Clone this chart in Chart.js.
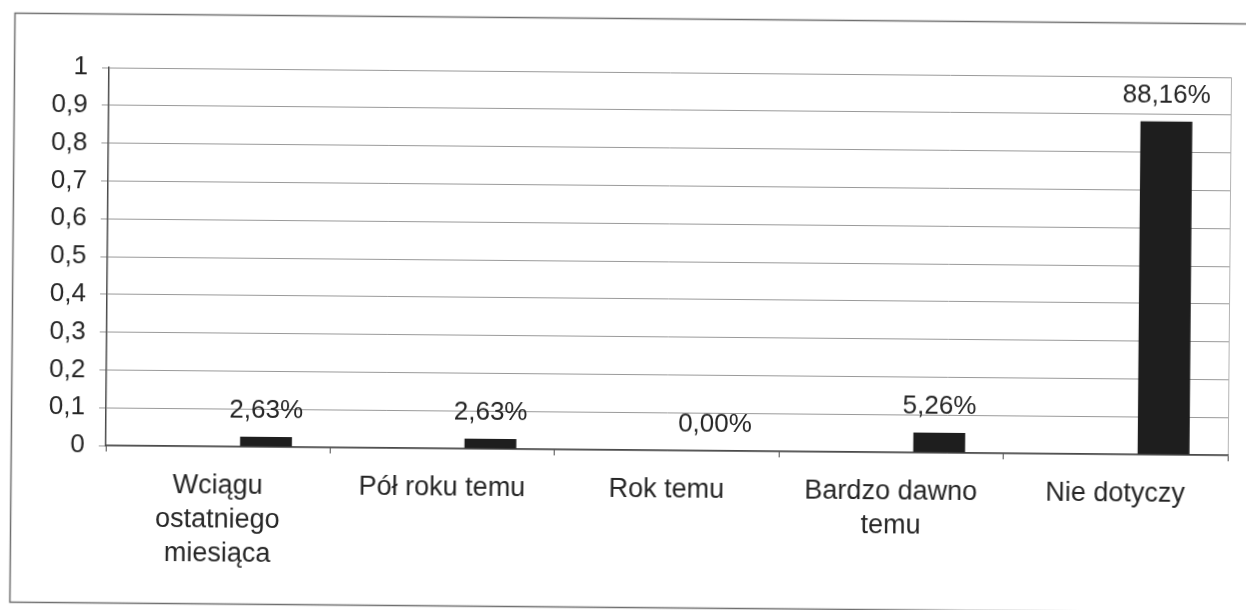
<!DOCTYPE html>
<html>
<head>
<meta charset="utf-8">
<script src="https://cdn.jsdelivr.net/npm/chart.js@4/dist/chart.umd.min.js"></script>
<style>
	html, body { margin: 0; padding: 0; background: #ffffff; overflow: hidden; }
	/* skan jest lekko przekrzywiony */
	#wrap { width: 1246px; height: 610px; transform: rotate(0.5deg); transform-origin: 623px 305px; }
</style>
</head>
<body>
<div id="wrap"><canvas id="chart" width="1246" height="610"></canvas></div>
<script>
// kategorie (podpisy osi X)
const categories = [
	['Wciągu', 'ostatniego', 'miesiąca'],
	'Pół roku temu',
	'Rok temu',
	['Bardzo dawno', 'temu'],
	'Nie dotyczy',
];
// dwie puste serie - w oryginale słupek stoi na trzeciej pozycji w grupie
const seriesEmpty1 = [null, null, null, null, null];
const seriesEmpty2 = [null, null, null, null, null];
const seriesShare = [0.0263, 0.0263, 0.0, 0.0526, 0.8816];
// podpisy osi Y
const yTickLabels = ['0', '0,1', '0,2', '0,3', '0,4', '0,5', '0,6', '0,7', '0,8', '0,9', '1'];

Chart.defaults.font.family = '"Liberation Sans", Arial, sans-serif';
Chart.defaults.color = '#262626';

// ramka wykresu i obramowanie pola wykresu
const frames = {
	id: 'frames',
	beforeDraw(chart) {
		const { ctx, chartArea: { top, right, bottom } } = chart;
		ctx.save();
		ctx.strokeStyle = '#6f6f6f';
		ctx.lineWidth = 1.5;
		ctx.strokeRect(12.5, 18.5, 1250, 589);
		ctx.strokeStyle = '#b4b4b4';
		ctx.lineWidth = 1;
		ctx.beginPath();
		ctx.moveTo(Math.round(right) + 0.5, top);
		ctx.lineTo(Math.round(right) + 0.5, bottom);
		ctx.stroke();
		ctx.restore();
	},
};

// etykiety wartości nad słupkami
const valueLabels = {
	id: 'valueLabels',
	afterDatasetsDraw(chart) {
		const { ctx } = chart;
		const meta = chart.getDatasetMeta(2);
		ctx.save();
		ctx.font = '26px "Liberation Sans", Arial, sans-serif';
		ctx.fillStyle = '#262626';
		ctx.textAlign = 'center';
		ctx.textBaseline = 'alphabetic';
		meta.data.forEach((bar, i) => {
			const v = seriesShare[i];
			const txt = (v * 100).toFixed(2).replace('.', ',') + '%';
			ctx.fillText(txt, bar.x, bar.y - 19);
		});
		ctx.restore();
	},
};

new Chart(document.getElementById('chart'), {
	type: 'bar',
	data: {
		labels: categories,
		datasets: [
			{ data: seriesEmpty1, backgroundColor: '#1e1e1e' },
			{ data: seriesEmpty2, backgroundColor: '#1e1e1e' },
			{ data: seriesShare, backgroundColor: '#1e1e1e', borderWidth: 0 },
		],
	},
	options: {
		responsive: false,
		animation: false,
		layout: { padding: { left: 0, top: 72, right: 17, bottom: 0 } },
		categoryPercentage: 0.642,
		barPercentage: 1.08,
		plugins: {
			legend: { display: false },
			tooltip: { enabled: false },
		},
		scales: {
			y: {
				min: 0,
				max: 1,
				ticks: {
					stepSize: 0.1,
					padding: 14,
					font: { size: 26 },
					color: '#262626',
					callback: (value, index) => yTickLabels[index],
				},
				grid: { color: '#9a9a9a', lineWidth: 1, tickLength: 7 },
				border: { color: '#4a4a4a', width: 1.5 },
				afterFit: (scale) => { scale.width = 107; },
			},
			x: {
				ticks: {
					padding: 17,
					font: { size: 27, lineHeight: 1.25 },
					color: '#262626',
					maxRotation: 0,
					autoSkip: false,
				},
				grid: { offset: true, drawOnChartArea: false, tickLength: 6, color: '#4a4a4a' },
				border: { color: '#4a4a4a', width: 1.5 },
				afterFit: (scale) => { scale.height = 160; },
			},
		},
	},
	plugins: [frames, valueLabels],
});
</script>
</body>
</html>
